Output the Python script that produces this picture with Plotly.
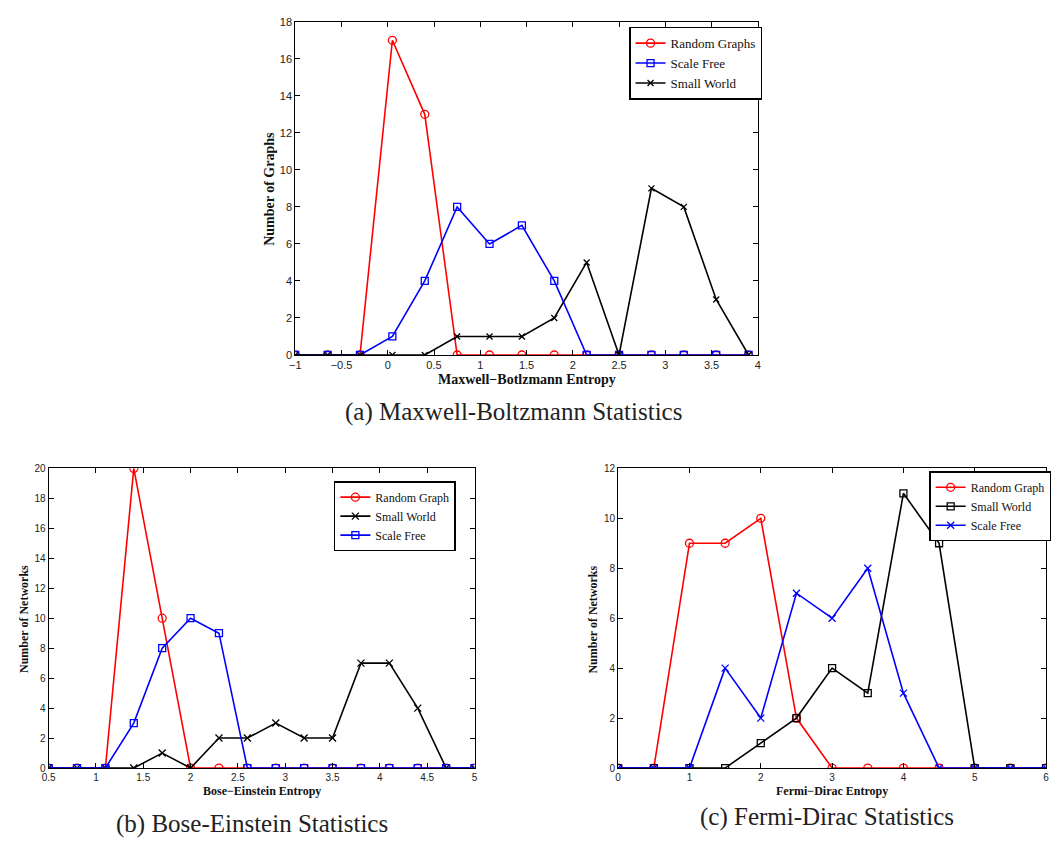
import plotly.graph_objects as go

W, H = 1054, 846

# ---- data ----
mb_x = [-1, -0.65, -0.3, 0.05, 0.4, 0.75, 1.1, 1.45, 1.8, 2.15, 2.5, 2.85, 3.2, 3.55, 3.9]
mb_random = [0, 0, 0, 17, 13, 0, 0, 0, 0, 0, 0, 0, 0, 0, 0]
mb_scale = [0, 0, 0, 1, 4, 8, 6, 7, 4, 0, 0, 0, 0, 0, 0]
mb_small = [0, 0, 0, 0, 0, 1, 1, 1, 2, 5, 0, 9, 8, 3, 0]

be_x = [0.5, 0.8, 1.1, 1.4, 1.7, 2.0, 2.3, 2.6, 2.9, 3.2, 3.5, 3.8, 4.1, 4.4, 4.7, 5.0]
be_random = [0, 0, 0, 20, 10, 0, 0, 0, 0, 0, 0, 0, 0, 0, 0, 0]
be_small = [0, 0, 0, 0, 1, 0, 2, 2, 3, 2, 2, 7, 7, 4, 0, 0]
be_scale = [0, 0, 0, 3, 8, 10, 9, 0, 0, 0, 0, 0, 0, 0, 0, 0]

fd_x = [0, 0.5, 1, 1.5, 2, 2.5, 3, 3.5, 4, 4.5, 5, 5.5, 6]
fd_random = [0, 0, 9, 9, 10, 2, 0, 0, 0, 0, 0, 0, 0]
fd_small = [0, 0, 0, 0, 1, 2, 4, 3, 11, 9, 0, 0, 0]
fd_scale = [0, 0, 0, 4, 2, 7, 6, 8, 3, 0, 0, 0, 0]

RED, BLUE, BLACK = "#ff0000", "#0000ff", "#000000"
SERIF = "Liberation Serif"
SANS = "Liberation Sans"

fig = go.Figure()

def add(x, y, name, color, symbol, xa, ya, leg, size=8):
    fig.add_trace(go.Scatter(
        x=x, y=y, name=name, mode="lines+markers",
        line=dict(color=color, width=1.6),
        marker=dict(symbol=symbol, size=size, color=color,
                    line=dict(color=color, width=1.3)),
        xaxis=xa, yaxis=ya, legend=leg))

add(mb_x, mb_random, "Random Graphs", RED, "circle-open", "x", "y", "legend", 8)
add(mb_x, mb_scale, "Scale Free", BLUE, "square-open", "x", "y", "legend", 7)
add(mb_x, mb_small, "Small World", BLACK, "x-thin-open", "x", "y", "legend", 6)

add(be_x, be_random, "Random Graph", RED, "circle-open", "x2", "y2", "legend2", 8)
add(be_x, be_small, "Small World", BLACK, "x-thin-open", "x2", "y2", "legend2", 7)
add(be_x, be_scale, "Scale Free", BLUE, "square-open", "x2", "y2", "legend2", 7)

add(fd_x, fd_random, "Random Graph", RED, "circle-open", "x3", "y3", "legend3", 8)
add(fd_x, fd_small, "Small World", BLACK, "square-open", "x3", "y3", "legend3", 7)
add(fd_x, fd_scale, "Scale Free", BLUE, "x-thin-open", "x3", "y3", "legend3", 7)

def px(v):
    return v / W

def py(v):
    return 1 - v / H

def axis(domain, rng, dtick, fs, anchor=None):
    return dict(domain=domain, range=rng, dtick=dtick, showgrid=False, zeroline=False,
                showline=True, linecolor="black", linewidth=1, mirror="allticks",
                ticks="inside", ticklen=5, tickcolor="black", tickwidth=1,
                tickfont=dict(family=SANS, size=fs, color="#222"),
                anchor=anchor)

def legend(x, y, fs):
    return dict(x=px(x), y=py(y), xanchor="left", yanchor="top",
                bordercolor="black", borderwidth=1.5, bgcolor="white",
                font=dict(family=SERIF, size=fs, color="#111"),
                itemwidth=30, tracegroupgap=0)

fig.update_layout(
    width=W, height=H, margin=dict(l=0, r=0, t=0, b=0),
    paper_bgcolor="white", plot_bgcolor="white",
    xaxis=axis([px(291), px(758)], [-1, 4], 0.5, 11, anchor="y"),
    yaxis=axis([py(354), py(16)], [0, 18], 2, 11, anchor="x"),
    xaxis2=axis([px(42), px(472)], [0.5, 5], 0.5, 10, anchor="y2"),
    yaxis2=axis([py(773), py(469)], [0, 20], 2, 10, anchor="x2"),
    xaxis3=axis([px(617), px(1049)], [0, 6], 1, 10, anchor="y3"),
    yaxis3=axis([py(773), py(469)], [0, 12], 2, 10, anchor="x3"),
    legend=legend(628, 21, 13),
    legend2=legend(330, 482, 12),
    legend3=legend(931, 472, 12),
    showlegend=True,
)

serif_b = dict(family=SERIF, size=14, color="#111")
serif_b2 = dict(family=SERIF, size=12, color="#111")
cap = dict(family=SERIF, size=25, color="#222")

anns = [
    (525, 379, "<b>Maxwell\u2212Botlzmann Entropy</b>", serif_b, 0),
    (265, 185, "<b>Number of Graphs</b>", serif_b, -90),
    (257, 796, "<b>Bose\u2212Einstein Entropy</b>", serif_b2, 0),
    (17, 622, "<b>Number of Networks</b>", serif_b2, -90),
    (833, 796, "<b>Fermi\u2212Dirac Entropy</b>", serif_b2, 0),
    (592, 622, "<b>Number of Networks</b>", serif_b2, -90),
    (511, 412, "(a) Maxwell-Boltzmann Statistics", cap, 0),
    (247, 830, "(b) Bose-Einstein Statistics", cap, 0),
    (828, 823, "(c) Fermi-Dirac Statistics", cap, 0),
]
for x, y, t, f, rot in anns:
    fig.add_annotation(x=px(x), y=py(y), xref="paper", yref="paper", text=t,
                       showarrow=False, font=f, textangle=rot,
                       xanchor="center", yanchor="middle")

fig.write_html("out.html")
